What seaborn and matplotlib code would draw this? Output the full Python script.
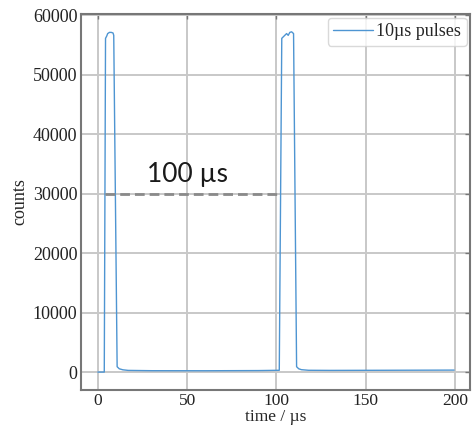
import matplotlib
matplotlib.use("Agg")
import matplotlib.pyplot as plt
import seaborn as sns
import pandas as pd

# Trace breakpoints (time in µs, counts)
time_us = [0.0, 3.6, 4.3, 5.0, 5.5, 6.5, 7.5, 8.5, 8.9, 10.8, 12.0, 14.0, 17.0,
           30.0, 60.0, 90.0, 101.6, 103.0, 104.0, 105.7, 106.6, 107.5, 108.5,
           109.6, 111.3, 112.5, 114.0, 118.0, 130.0, 160.0, 199.5]
counts = [0, 0, 56100, 56500, 56900, 57100, 57100, 57000, 56600, 900, 550, 380, 280,
          230, 220, 250, 300, 56100, 56400, 56900, 56600, 57100, 57200,
          56900, 900, 550, 400, 300, 280, 300, 330]
series_label = "10µs pulses"
xticks = [0, 50, 100, 150, 200]
yticks = [0, 10000, 20000, 30000, 40000, 50000, 60000]
marker_level = 30000
marker_start, marker_end = 4.0, 101.0
annot_text = "100 µs"

df = pd.DataFrame({"time": time_us, "counts": counts})

sns.set_style("white")
plt.rcParams["font.family"] = ["Liberation Serif", "DejaVu Serif"]
plt.rcParams["font.size"] = 13

fig = plt.figure(figsize=(4.73, 4.28), dpi=100)
ax = fig.add_axes([0.171, 0.089, 0.823, 0.878])

sns.lineplot(data=df, x="time", y="counts", ax=ax, color="#4e95d2",
             linewidth=1.0, label=series_label)

ax.hlines(marker_level, marker_start, marker_end, colors="#8a8a8a",
          linestyles=(0, (3.5, 1.8)), linewidth=2.0, zorder=3)
ax.text(27.3, 32000, annot_text, fontsize=19, family=["Lato", "DejaVu Sans"],
        color="#1a1a1a", ha="left", va="baseline")

ax.set_xlim(-9.5, 208.5)
ax.set_ylim(-3000, 60170)
ax.set_xticks(xticks)
ax.set_yticks(yticks)
ax.set_xlabel("time / µs", fontsize=12.5, labelpad=0)
ax.set_ylabel("counts", fontsize=13, labelpad=3)

ax.grid(True, color="#c8c8c8", linewidth=1.4)
ax.set_axisbelow(True)
ax.tick_params(direction="in", top=True, right=True, length=3.5, width=1,
               colors="#777777", labelcolor="#222222", labelsize=13, pad=2.5)
ax.tick_params(axis="x", labelsize=12.5, pad=2)
for s in ax.spines.values():
    s.set_color("#777777")
    s.set_linewidth(1.5)

leg = ax.legend(loc="upper right", fontsize=13, frameon=True, fancybox=True,
                handlelength=2.2, handletextpad=0.2, borderpad=0.3,
                borderaxespad=0.2)
leg.get_frame().set_edgecolor("#d0d0d0")

fig.savefig("out.png", dpi=100)
